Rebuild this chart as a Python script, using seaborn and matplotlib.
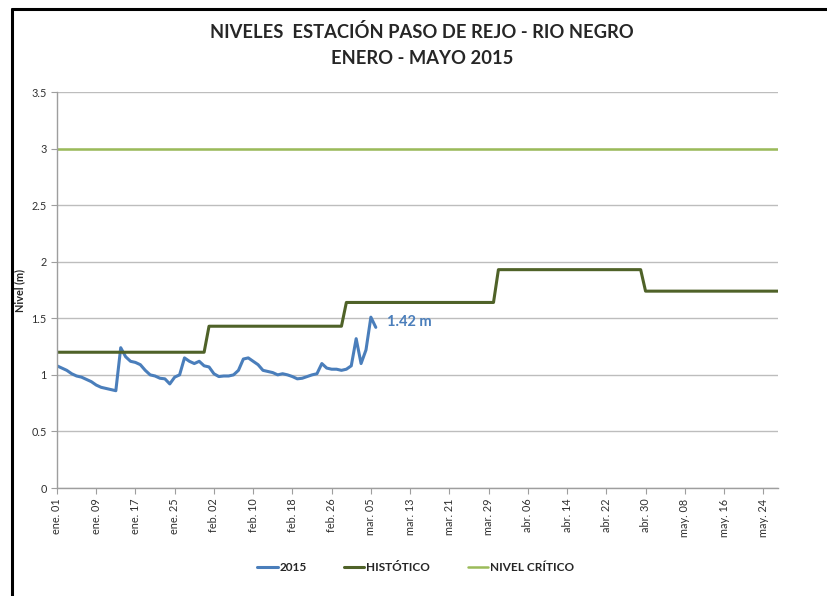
import pandas as pd
import numpy as np
import matplotlib
matplotlib.use("Agg")
import matplotlib.pyplot as plt
from matplotlib.lines import Line2D
import seaborn as sns

# --- Data ---
# daily level 2015, starting ene. 01 (m)
nivel_2015 = [
    1.08, 1.06, 1.04, 1.01, 0.99, 0.98, 0.96, 0.94, 0.91, 0.89,
    0.88, 0.87, 0.86, 1.24, 1.16, 1.12, 1.11, 1.09, 1.04, 1.00,
    0.99, 0.97, 0.965, 0.92, 0.98, 1.00, 1.15, 1.12, 1.10, 1.12,
    1.08, 1.07, 1.01, 0.985, 0.99, 0.99, 1.00, 1.04, 1.14, 1.15,
    1.12, 1.09, 1.04, 1.03, 1.02, 1.00, 1.01, 1.00, 0.985, 0.965,
    0.97, 0.985, 1.00, 1.01, 1.10, 1.06, 1.05, 1.05, 1.04, 1.05,
    1.08, 1.32, 1.10, 1.22, 1.51, 1.42,
]
# monthly historical mean (ene..may)
meses = [1, 2, 3, 4, 5]
historico_mensual = [1.20, 1.43, 1.64, 1.93, 1.74]
nivel_critico = 3.0

fecha_inicio = "2015-01-01"
fecha_fin = "2015-05-28"

tick_fechas = ["2015-01-01", "2015-01-09", "2015-01-17", "2015-01-25", "2015-02-02",
               "2015-02-10", "2015-02-18", "2015-02-26", "2015-03-06", "2015-03-14",
               "2015-03-22", "2015-03-30", "2015-04-07", "2015-04-15", "2015-04-23",
               "2015-05-01", "2015-05-09", "2015-05-17", "2015-05-25"]
tick_labels = ["ene. 01", "ene. 09", "ene. 17", "ene. 25", "feb. 02", "feb. 10",
               "feb. 18", "feb. 26", "mar. 05", "mar. 13", "mar. 21", "mar. 29",
               "abr. 06", "abr. 14", "abr. 22", "abr. 30", "may. 08", "may. 16",
               "may. 24"]

# --- Build frames ---
df_2015 = pd.DataFrame({
    "fecha": pd.date_range(fecha_inicio, periods=len(nivel_2015)),
    "nivel": nivel_2015,
})
dias = pd.date_range(fecha_inicio, fecha_fin)
hist_map = dict(zip(meses, historico_mensual))
df_hist = pd.DataFrame({"fecha": dias, "nivel": [hist_map[d.month] for d in dias]})
df_crit = pd.DataFrame({"fecha": dias, "nivel": nivel_critico})

# --- Plot ---
sns.set_style("white")
plt.rcParams["font.family"] = ["Lato", "DejaVu Sans"]

fig = plt.figure(figsize=(8.28, 5.96), dpi=100)
ax = fig.add_axes([0.0688, 0.1812, 0.8708, 0.6644])

c_2015 = "#4A7EBB"
c_hist = "#4F6228"
c_crit = "#9BBB59"

sns.lineplot(data=df_2015, x="fecha", y="nivel", color=c_2015, lw=2.2, ax=ax, label="2015")
sns.lineplot(data=df_hist, x="fecha", y="nivel", color=c_hist, lw=2.2, ax=ax, label="HISTÓTICO")
sns.lineplot(data=df_crit, x="fecha", y="nivel", color=c_crit, lw=1.8, ax=ax, label="NIVEL CRÍTICO")

# last value annotation
ultimo = df_2015.iloc[-1]
ax.annotate(f"{ultimo['nivel']:.2f} m", xy=(ultimo["fecha"], ultimo["nivel"]),
            xytext=(8, 4), textcoords="offset points", color=c_2015,
            fontsize=10.5, fontweight="bold", va="center", ha="left")

ax.set_xlim(pd.Timestamp(fecha_inicio), pd.Timestamp(fecha_fin))
ax.set_ylim(0, 3.5)
ax.set_yticks(np.arange(0, 3.51, 0.5))
ax.set_yticklabels(["0", "0.5", "1", "1.5", "2", "2.5", "3", "3.5"])
ax.set_xticks(pd.to_datetime(tick_fechas))
ax.set_xticklabels(tick_labels, rotation=90)

ax.grid(axis="y", color="#BDBDBD", lw=1)
ax.grid(axis="x", visible=False)
for s in ["top", "right"]:
    ax.spines[s].set_visible(False)
for s in ["left", "bottom"]:
    ax.spines[s].set_color("#9E9E9E")
    ax.spines[s].set_linewidth(1)
ax.tick_params(axis="both", labelsize=7.8, colors="#303030", length=4, width=0.8,
               direction="out", left=True, bottom=True)
ax.tick_params(axis="both", color="#9E9E9E")

ax.set_xlabel("")
ax.set_ylabel("Nivel (m)", fontsize=7.8, fontweight="bold", labelpad=4)

fig.text(0.51, 0.946, "NIVELES  ESTACIÓN PASO DE REJO - RIO NEGRO",
         ha="center", va="center", fontsize=13.2, fontweight="bold")
fig.text(0.51, 0.902, "ENERO - MAYO 2015",
         ha="center", va="center", fontsize=13.2, fontweight="bold")

ax.legend(loc="center", bbox_to_anchor=(0.502, 0.047), bbox_transform=fig.transFigure,
          ncol=3, frameon=False, handlelength=1.7, handletextpad=0.15,
          columnspacing=3.2, prop={"size": 8.5, "weight": "bold"})

# outer frame (top and left edges visible in the reference)
fig.add_artist(Line2D([12 / 828, 1], [1 - 9 / 596, 1 - 9 / 596],
                      transform=fig.transFigure, color="black", lw=2.2))
fig.add_artist(Line2D([12 / 828, 12 / 828], [0, 1 - 9 / 596],
                      transform=fig.transFigure, color="black", lw=2.2))

fig.savefig("out.png", dpi=100)
